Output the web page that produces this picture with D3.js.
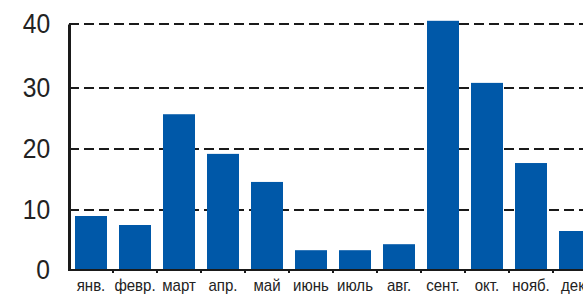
<!DOCTYPE html>
<html>
<head>
<meta charset="utf-8">
<script src="https://cdn.jsdelivr.net/npm/d3@7"></script>
<style>
  body { margin: 0; background: #fff; }
  text { font-family: "Liberation Sans", Arial, sans-serif; }
</style>
</head>
<body>
<script>
var months = ['янв.', 'февр.', 'март', 'апр.', 'май', 'июнь', 'июль', 'авг.', 'сент.', 'окт.', 'нояб.', 'дек.'];
var values = [9.0, 7.5, 25.7, 19.2, 14.6, 3.3, 3.3, 4.3, 40.5, 30.8, 17.7, 6.5];
var yTicks = [0, 10, 20, 30, 40];

var fullWidth = 583;
var fullHeight = 294;
var plotLeft = 69, plotTop = 24, plotBottom = 270;

var svg = d3.select('body').append('svg')
  .attr('width', fullWidth)
  .attr('height', fullHeight);

var x = d3.scaleBand()
  .domain(months)
  .range([plotLeft, plotLeft + 12 * 44])
  .paddingInner(12 / 44)
  .paddingOuter(6 / 44);

// the printed axis is not quite even, so map each tick to where it sits
var y = d3.scaleLinear()
  .domain(yTicks)
  .range([plotBottom, 210, 149, 88, plotTop]);

// dashed grid
svg.append('g')
  .selectAll('line')
  .data(yTicks.filter(function(d) { return d > 0; }))
  .enter().append('line')
    .attr('x1', plotLeft)
    .attr('x2', fullWidth)
    .attr('y1', function(d) { return y(d); })
    .attr('y2', function(d) { return y(d); })
    .style('stroke', '#1a1a1a')
    .style('stroke-width', 2)
    .style('stroke-dasharray', '10,5');

// bars
svg.append('g')
  .selectAll('rect')
  .data(values)
  .enter().append('rect')
    .attr('x', function(d, i) { return x(months[i]); })
    .attr('width', x.bandwidth())
    .attr('y', function(d) { return y(d); })
    .attr('height', function(d) { return y(0) - y(d); })
    .style('fill', '#0058a8');

// y axis
var yAxis = d3.axisLeft(y).tickValues(yTicks).tickSize(0).tickPadding(21.5);
var yAxisEle = svg.append('g')
  .attr('transform', 'translate(' + plotLeft + ',0)')
  .call(yAxis);
yAxisEle.select('.domain').style('stroke', '#1a1a1a').style('stroke-width', 3);
yAxisEle.selectAll('text')
  .attr('transform', 'scale(0.88,1)')
  .style('font-size', '28px')
  .style('font-family', '"Liberation Sans", Arial, sans-serif')
  .style('fill', '#222');

// x axis
var xAxis = d3.axisBottom(x).tickSize(0).tickPadding(10);
var xAxisEle = svg.append('g')
  .attr('transform', 'translate(0,' + plotBottom + ')')
  .call(xAxis);
xAxisEle.select('.domain').remove();
xAxisEle.append('line')
  .attr('x1', plotLeft - 1)
  .attr('x2', fullWidth)
  .style('stroke', '#1a1a1a')
  .style('stroke-width', 2);
xAxisEle.selectAll('.tick text')
  .attr('transform', 'scale(0.94,1)')
  .style('font-size', '16px')
  .style('font-family', '"Liberation Sans", Arial, sans-serif')
  .style('fill', '#222');

// small marks between the bars
xAxisEle.append('g')
  .selectAll('line')
  .data(months.slice(1))
  .enter().append('line')
    .attr('x1', function(d) { return x(d) - 6; })
    .attr('x2', function(d) { return x(d) - 6; })
    .attr('y1', 0)
    .attr('y2', 3)
    .style('stroke', '#1a1a1a')
    .style('stroke-width', 2);
</script>
</body>
</html>
